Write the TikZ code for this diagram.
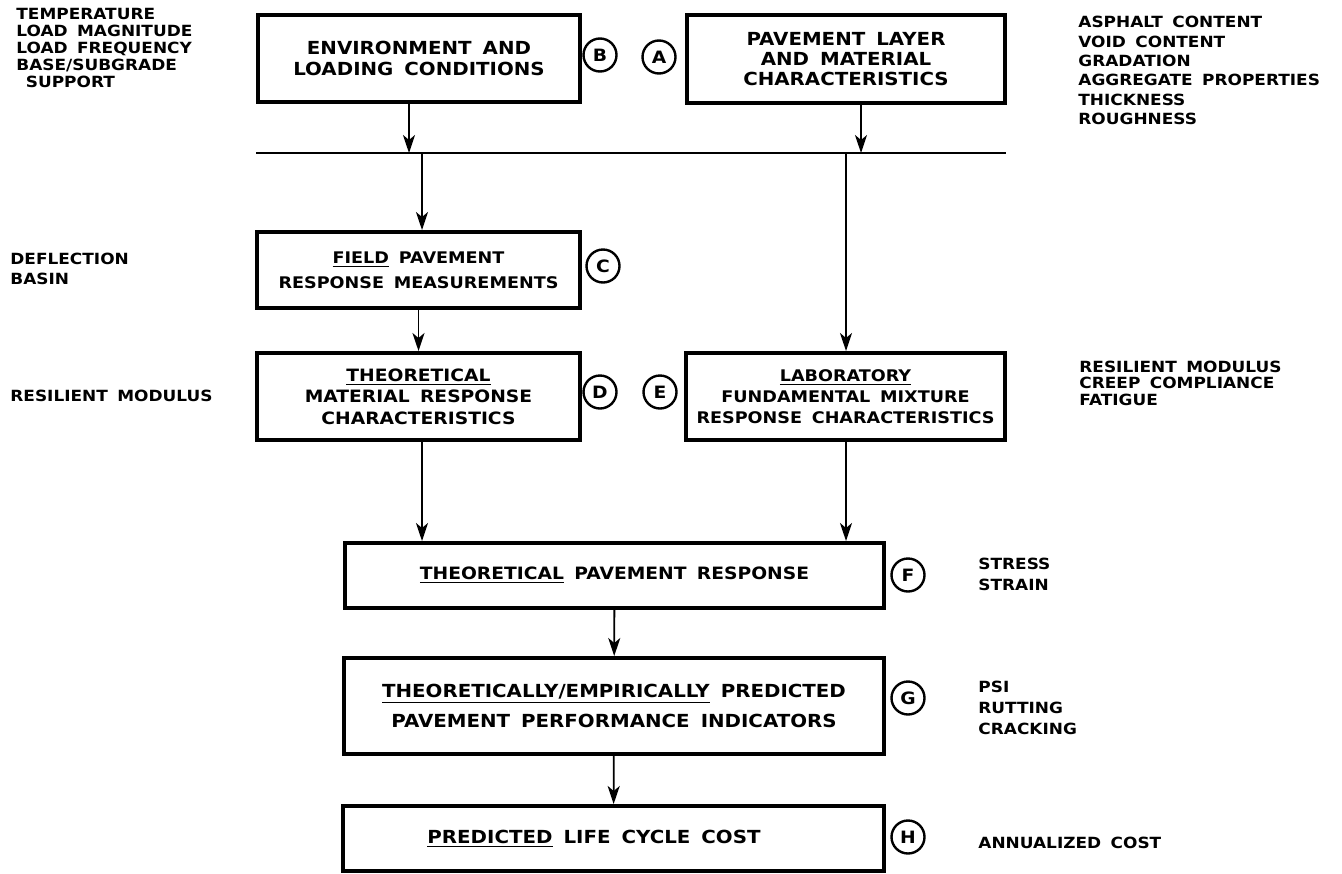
\documentclass[tikz,border=0pt]{standalone}
\usepackage{fontspec}
\usetikzlibrary{arrows.meta}
\newfontfamily\lettering{DejaVu Sans}[FakeStretch=1.1,WordSpace=1.6]
\tikzset{
    	every node/.append style={font=\lettering\bfseries\fontsize{7.7}{9.7}\selectfont}}

\begin{document}
\begin{tikzpicture}
  [x=0.5pt,y=-0.5pt,>={Stealth[length=9pt,width=6pt,inset=2.5pt]},
   stage/.style={draw,line width=2pt,align=center,inner sep=0pt,
     font=\lettering\bfseries\fontsize{9}{10.5}\selectfont},
   mid/.style={font=\lettering\bfseries\fontsize{8.5}{10.8}\selectfont},
   slim/.style={font=\lettering\bfseries\fontsize{8}{10.5}\selectfont},
   tag/.style={draw,circle,line width=1.2pt,minimum size=16.5pt,inner sep=0pt,
     font=\lettering\bfseries\fontsize{8.5}{9}\selectfont},
   remark/.style={anchor=west,align=left,inner sep=0pt},
   flow/.style={->,line width=0.9pt}
  ]
  \useasboundingbox (0,0) rectangle (1342,873);

  \node [stage,minimum width=161pt,minimum height=43.5pt] (bB) at (419,58.5) {ENVIRONMENT AND\\LOADING CONDITIONS};
  \node [stage,minimum width=159pt,minimum height=44pt,font=\lettering\bfseries\fontsize{9}{9.8}\selectfont] (bA) at (846,59) {PAVEMENT LAYER\\AND MATERIAL\\CHARACTERISTICS};
  \node [stage,slim,minimum width=161.5pt,minimum height=38pt,font=\lettering\bfseries\fontsize{8}{12.5}\selectfont] (bC) at (418.5,270) {\underline{FIELD} PAVEMENT\\RESPONSE MEASUREMENTS};
  \node [stage,mid,minimum width=161.5pt,minimum height=43.5pt] (bD) at (418.5,396.5) {\underline{THEORETICAL}\\MATERIAL RESPONSE\\CHARACTERISTICS};
  \node [stage,slim,minimum width=159.5pt,minimum height=43.5pt] (bE) at (845.5,396.5) {\underline{LABORATORY}\\FUNDAMENTAL MIXTURE\\RESPONSE CHARACTERISTICS};
  \node [stage,mid,minimum width=269.5pt,minimum height=32.5pt] (bF) at (614.5,575.5) {\underline{THEORETICAL} PAVEMENT RESPONSE};
  \node [stage,minimum width=270pt,minimum height=48pt] (bG) at (614,706) {\underline{THEORETICALLY/EMPIRICALLY} PREDICTED\\[4.5pt]PAVEMENT PERFORMANCE INDICATORS};
  \node [stage,minimum width=270.5pt,minimum height=32.5pt] (bH) at (613.5,838.5) {\underline{PREDICTED} LIFE CYCLE COST\hspace*{19.5pt}};

  \node [tag] (tB) at (600,55) {B};
  \node [tag] (tA) at (659,57) {A};
  \node [tag] (tC) at (603,266) {C};
  \node [tag] (tD) at (600,392) {D};
  \node [tag] (tE) at (660,392) {E};
  \node [tag] (tF) at (908,575) {F};
  \node [tag] (tG) at (908,698) {G};
  \node [tag] (tH) at (908,837) {H};

  \node [remark,font=\lettering\bfseries\fontsize{7.7}{8.6}\selectfont] (rB) at (16,48) {TEMPERATURE\\LOAD MAGNITUDE\\LOAD FREQUENCY\\BASE/SUBGRADE\\\ SUPPORT};
  \node [remark] (rA) at (1078,70.5) {ASPHALT CONTENT\\VOID CONTENT\\GRADATION\\AGGREGATE PROPERTIES\\THICKNESS\\ROUGHNESS};
  \node [remark] (rC) at (10,269) {DEFLECTION\\BASIN};
  \node [remark] (rD) at (10,396) {RESILIENT MODULUS};
  \node [remark,font=\lettering\bfseries\fontsize{7.7}{8.3}\selectfont] (rE) at (1079,383) {RESILIENT MODULUS\\CREEP COMPLIANCE\\FATIGUE};
  \node [remark,font=\lettering\bfseries\fontsize{7.7}{10.5}\selectfont] (rF) at (978,574.5) {STRESS\\STRAIN};
  \node [remark,font=\lettering\bfseries\fontsize{7.7}{10.5}\selectfont] (rG) at (978,708) {PSI\\RUTTING\\CRACKING};
  \node [remark] (rH) at (978,843) {ANNUALIZED COST};

  \coordinate (barL) at (256,153);
  \coordinate (barR) at (1006,153);
  \coordinate (jB) at (409,153);
  \coordinate (jA) at (861,153);
  \coordinate (jC) at (422,153);
  \coordinate (jE) at (846,153);
  \draw [line width=1.4pt] (barL) -- (barR);
  \draw [flow] (jB |- bB.south) -- (jB);
  \draw [flow] (jA |- bA.south) -- (jA);
  \draw [flow] (jC) -- (jC |- bC.north);
  \draw [flow] (jE) -- (jE |- bE.north);
  \draw [flow] (bD.south -| jC) -- (jC |- bF.north);
  \draw [flow] (bE.south -| jE) -- (jE |- bF.north);

  \foreach \from/\to in {bC/bD,bF/bG,bG/bH}
    \draw [flow] (\from) -- (\to);
\end{tikzpicture}
\end{document}
